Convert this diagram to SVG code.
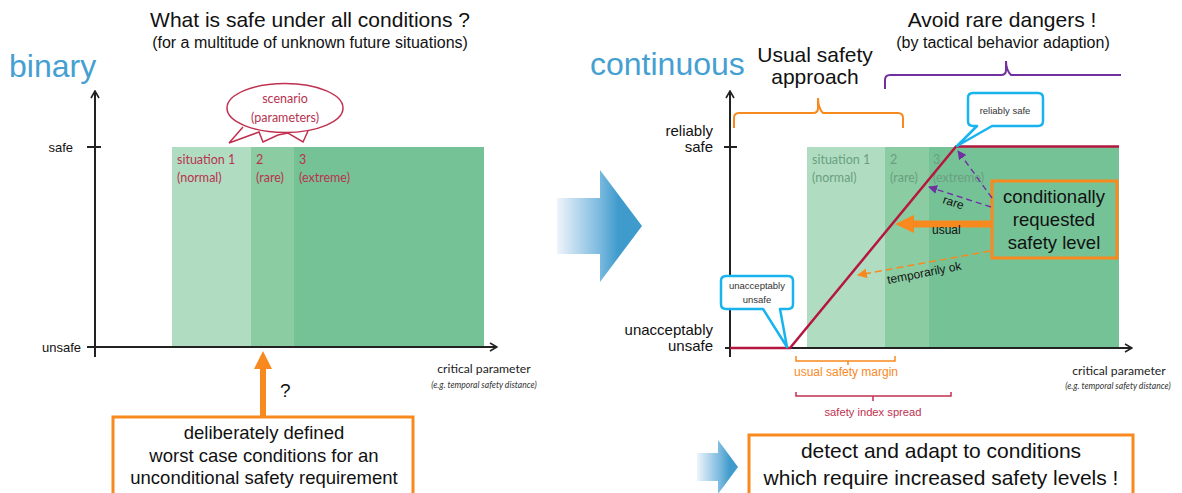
<svg xmlns="http://www.w3.org/2000/svg" width="1182" height="493" viewBox="0 0 1182 493">
<defs>
<linearGradient id="bigArrowGrad" x1="557" y1="0" x2="642" y2="0" gradientUnits="userSpaceOnUse">
<stop offset="0" stop-color="#eef4fb"/>
<stop offset="0.5" stop-color="#7cbadf"/>
<stop offset="0.72" stop-color="#3f9bcc"/>
<stop offset="1" stop-color="#3f9bcc"/>
</linearGradient>
<linearGradient id="smallArrowGrad" x1="697" y1="0" x2="738" y2="0" gradientUnits="userSpaceOnUse">
<stop offset="0" stop-color="#eef4fb"/>
<stop offset="0.55" stop-color="#7cbadf"/>
<stop offset="0.8" stop-color="#3f9bcc"/>
<stop offset="1" stop-color="#3f9bcc"/>
</linearGradient>
<marker id="axisHead" viewBox="0 0 10 10" refX="9" refY="5" markerWidth="10" markerHeight="10" markerUnits="userSpaceOnUse" orient="auto">
<path d="M2,1 L9,5 L2,9" fill="none" stroke="#222" stroke-width="1.6"/>
</marker>
<marker id="purpleHead" viewBox="0 0 10 10" refX="9" refY="5" markerWidth="9" markerHeight="9" markerUnits="userSpaceOnUse" orient="auto">
<path d="M0,0 L10,5 L0,10 Z" fill="#7030a0"/>
</marker>
<marker id="orangeHead" viewBox="0 0 10 10" refX="9" refY="5" markerWidth="10" markerHeight="10" markerUnits="userSpaceOnUse" orient="auto">
<path d="M0,0 L10,5 L0,10 Z" fill="#f7891f"/>
</marker>
</defs>
<style>
.ar{font-family:"Liberation Sans",Arial,sans-serif;fill:#111}
.cal{font-family:Lato,"Open Sans",sans-serif}
.title{font-size:21px}
.sub{font-size:16px}
.big{font-size:32px;fill:#45a0d2}
.lab13{font-size:13px}
.lab15{font-size:15px}
.sitL{fill:#b8334f;font-size:12.5px}
.sitR{fill:#6a9f80;font-size:12.5px}
.axis{stroke:#222;stroke-width:2;fill:none}
.g1{fill:#b0ddc1}
.g2{fill:#8bcca2}
.g3{fill:#76c297}
.obox{fill:#fff;stroke:#f7891f;stroke-width:3}
.call{fill:#fff;stroke:#19b4ee;stroke-width:2.5;stroke-linejoin:round}
.small{font-size:9.5px;fill:#333}
.crim{stroke:#b5173f;stroke-width:2.5;fill:none}
.crit{font-size:12.2px;fill:#222}
.ital{font-style:italic;font-size:8.6px;fill:#333}
.orT{fill:#f7891f}
.crT{fill:#c0304f}
</style>

<!-- LEFT PANEL -->
<g id="left-title">
<text class="ar title" x="310" y="27" text-anchor="middle">What is safe under all conditions ?</text>
<text class="ar sub" x="310" y="48" text-anchor="middle">(for a multitude of unknown future situations)</text>
<text class="ar big" x="9" y="77">binary</text>
</g>

<g id="left-situations">
<rect class="g1" x="172" y="147" width="79" height="200"/>
<rect class="g2" x="251" y="147" width="43" height="200"/>
<rect class="g3" x="294" y="147" width="190" height="200"/>
<text class="cal sitL" x="177" y="164">situation 1</text>
<text class="cal sitL" x="177" y="182">(normal)</text>
<text class="cal sitL" x="256" y="164">2</text>
<text class="cal sitL" x="256" y="182">(rare)</text>
<text class="cal sitL" x="299" y="164">3</text>
<text class="cal sitL" x="299" y="182">(extreme)</text>
</g>

<g id="left-axes">
<line class="axis" x1="95" y1="357" x2="95" y2="91" marker-end="url(#axisHead)"/>
<line class="axis" x1="87" y1="347" x2="497" y2="347" marker-end="url(#axisHead)"/>
<line class="axis" x1="87" y1="147" x2="101" y2="147"/>
<text class="ar lab13" x="73" y="152" text-anchor="end">safe</text>
<text class="ar lab13" x="81" y="352" text-anchor="end">unsafe</text>
<text class="cal crit" x="484" y="373" text-anchor="middle">critical parameter</text>
<text class="cal ital" x="484" y="388" text-anchor="middle">(e.g. temporal safety distance)</text>
</g>

<g id="scenario-bubble">
<path d="M243,127 L229,143 L259,132 L263,142 L278,135 L288,133 L303,142 L308,131" fill="#fff" stroke="#c0304f" stroke-width="1.5" stroke-linejoin="miter"/>
<ellipse cx="285" cy="108" rx="58" ry="24.5" fill="#fff" stroke="#c0304f" stroke-width="1.5"/>
<text class="cal" x="285" y="103" text-anchor="middle" font-size="12.5" fill="#b8334f">scenario</text>
<text class="cal" x="285" y="122" text-anchor="middle" font-size="12.5" fill="#b8334f">(parameters)</text>
</g>

<g id="worst-case-box">
<path d="M260,417 V369 H254 L263,351 L272,369 H266 V417 Z" fill="#f7891f"/>
<rect class="obox" x="113" y="417" width="300" height="90"/>
<text class="ar" x="264" y="439" text-anchor="middle" font-size="18.5">deliberately defined</text>
<text class="ar" x="264" y="462" text-anchor="middle" font-size="18.5">worst case conditions for an</text>
<text class="ar" x="264" y="484" text-anchor="middle" font-size="18.5">unconditional safety requirement</text>
<text class="ar" x="280" y="397" font-size="19">?</text>
</g>

<!-- MIDDLE ARROW -->
<g id="transition-arrow">
<path d="M557,198 H600 V170 L642,226 L600,282 V254 H557 Z" fill="url(#bigArrowGrad)"/>
</g>

<!-- RIGHT PANEL -->
<g id="right-title">
<text class="ar big" x="590" y="75">continuous</text>
<text class="ar title" x="815" y="62" text-anchor="middle">Usual safety</text>
<text class="ar title" x="815" y="84" text-anchor="middle">approach</text>
<text class="ar title" x="1002" y="27" text-anchor="middle">Avoid rare dangers !</text>
<text class="ar sub" x="1003" y="48" text-anchor="middle">(by tactical behavior adaption)</text>
</g>

<g id="braces">
<path d="M734,128 V118 Q734,113 739,113 H813 Q818,113 818,108 V98 Q818,108 823,113 H898 Q903,113 903,118 V128" fill="none" stroke="#f7891f" stroke-width="2"/>
<path d="M885,89 V80 Q885,75 890,75 H1001 Q1006,75 1006,70 V61 Q1006,70 1011,75 H1121" fill="none" stroke="#7030a0" stroke-width="2"/>
</g>

<g id="right-situations">
<rect class="g1" x="807" y="147" width="78" height="201"/>
<rect class="g2" x="885" y="147" width="44" height="201"/>
<rect class="g3" x="929" y="147" width="190" height="201"/>
<text class="cal sitR" x="812" y="164">situation 1</text>
<text class="cal sitR" x="812" y="182">(normal)</text>
<text class="cal sitR" x="890" y="164">2</text>
<text class="cal sitR" x="890" y="182">(rare)</text>
<text class="cal sitR" x="933" y="164">3</text>
<text class="cal sitR" x="933" y="182">(extreme)</text>
</g>

<g id="right-axes">
<line class="axis" x1="730" y1="357" x2="730" y2="91" marker-end="url(#axisHead)"/>
<line class="axis" x1="725" y1="348" x2="1132" y2="348" marker-end="url(#axisHead)"/>
<line class="axis" x1="724" y1="147" x2="737" y2="147"/>
<text class="ar lab15" x="713" y="136" text-anchor="end">reliably</text>
<text class="ar lab15" x="713" y="152" text-anchor="end">safe</text>
<text class="ar lab15" x="713" y="335" text-anchor="end">unacceptably</text>
<text class="ar lab15" x="713" y="351" text-anchor="end">unsafe</text>
<text class="cal crit" x="1119" y="375" text-anchor="middle">critical parameter</text>
<text class="cal ital" x="1118" y="389" text-anchor="middle">(e.g. temporal safety distance)</text>
</g>

<g id="safety-curve">
<polyline class="crim" points="730,348 790,348 956,146.5 1119,146.5"/>
</g>

<g id="callout-reliably-safe">
<path class="call" d="M973,93 H1038 Q1043,93 1043,98 V121 Q1043,126 1038,126 H992 L957,146 L977,126 H973 Q968,126 968,121 V98 Q968,93 973,93 Z"/>
<text class="ar small" x="1005" y="114" text-anchor="middle">reliably safe</text>
</g>

<g id="callout-unacceptably-unsafe">
<path class="call" d="M726,276 H788 Q793,276 793,281 V304 Q793,309 788,309 H780 L787,347 L763,309 H726 Q721,309 721,304 V281 Q721,276 726,276 Z"/>
<text class="ar small" x="757" y="289" text-anchor="middle">unacceptably</text>
<text class="ar small" x="757" y="303" text-anchor="middle">unsafe</text>
</g>

<g id="conditional-box">
<rect x="992" y="181" width="125" height="77" fill="#76c297" stroke="#f7891f" stroke-width="3"/>
<text class="ar" x="1054" y="203" text-anchor="middle" font-size="18.5">conditionally</text>
<text class="ar" x="1054" y="226" text-anchor="middle" font-size="18.5">requested</text>
<text class="ar" x="1054" y="249" text-anchor="middle" font-size="18.5">safety level</text>
</g>

<g id="connectors">
<path d="M993,220.5 H914 V215 L895,224 L914,233 V227.5 H993 Z" fill="#f7891f"/>
<line x1="991" y1="207" x2="929" y2="187" stroke="#7030a0" stroke-width="1.4" stroke-dasharray="6,4" marker-end="url(#purpleHead)"/>
<line x1="992" y1="198" x2="958" y2="151" stroke="#7030a0" stroke-width="1.4" stroke-dasharray="6,4" marker-end="url(#purpleHead)"/>
<line x1="990" y1="251" x2="858" y2="275" stroke="#f7891f" stroke-width="1.5" stroke-dasharray="7,4" marker-end="url(#orangeHead)"/>
<text class="ar" x="942" y="203" font-size="12" transform="rotate(18 942 203)">rare</text>
<text class="ar" x="932" y="234" font-size="12">usual</text>
<text class="ar" x="888" y="284" font-size="12" transform="rotate(-11 888 284)">temporarily ok</text>
</g>

<g id="margin-brackets">
<path d="M796,356 V361 H895 V356 M848,361 V365" fill="none" stroke="#f7891f" stroke-width="1.5"/>
<text class="ar orT" x="846" y="376" text-anchor="middle" font-size="12">usual safety margin</text>
<path d="M796,392 V396 H951 V392 M873,396 V401" fill="none" stroke="#c0304f" stroke-width="1.5"/>
<text class="ar crT" x="873" y="416" text-anchor="middle" font-size="11.2">safety index spread</text>
</g>

<g id="adapt-box">
<path d="M697,453 H718 V440 L738,467 L718,494 V481 H697 Z" fill="url(#smallArrowGrad)"/>
<rect class="obox" x="749" y="435" width="384" height="80"/>
<text class="ar" x="941" y="458" text-anchor="middle" font-size="21">detect and adapt to conditions</text>
<text class="ar" x="941" y="485" text-anchor="middle" font-size="21">which require increased safety levels !</text>
</g>
</svg>
